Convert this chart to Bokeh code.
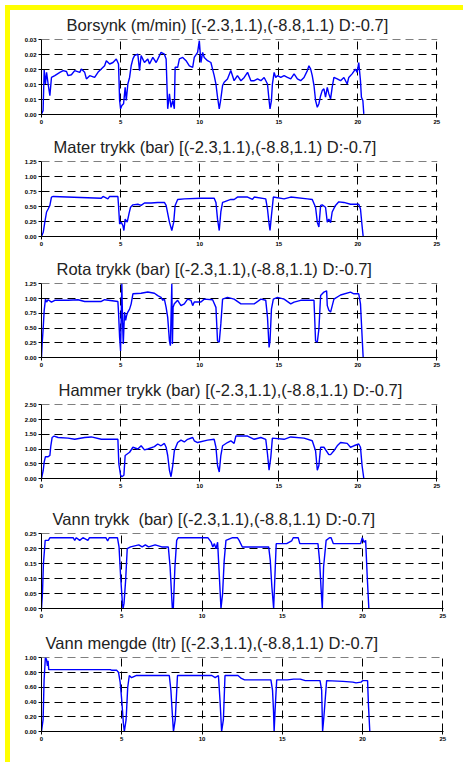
from bokeh.plotting import figure
from bokeh.layouts import column
from bokeh.models import FixedTicker, CustomJSTickFormatter, Range1d, Title, Div
from bokeh.embed import file_html
from bokeh.resources import INLINE

# ---------------- data ----------------
x_ticks = [0, 5, 10, 15, 20, 25]
x_labels = ["0", "5", "10", "15", "20", "25"]

titles = [
    "Borsynk (m/min) [(-2.3,1.1),(-8.8,1.1) D:-0.7]",
    "Mater trykk (bar) [(-2.3,1.1),(-8.8,1.1) D:-0.7]",
    "Rota trykk (bar) [(-2.3,1.1),(-8.8,1.1) D:-0.7]",
    "Hammer trykk (bar) [(-2.3,1.1),(-8.8,1.1) D:-0.7]",
    "Vann trykk\u00a0 (bar) [(-2.3,1.1),(-8.8,1.1) D:-0.7]",
    "Vann mengde (ltr) [(-2.3,1.1),(-8.8,1.1) D:-0.7]",
]

borsynk_ticks = [0, 0.005, 0.01, 0.015, 0.02, 0.025]
borsynk_labels = ["0.00", "0.01", "0.01", "0.02", "0.02", "0.03"]
borsynk_x = [0.00, 0.10, 0.17, 0.25, 0.32, 0.42, 0.53, 0.63, 0.84, 1.16, 1.37, 1.58, 1.68, 1.89, 2.10, 2.42,
             2.52, 2.73, 2.84, 3.05, 3.36, 3.57, 3.78, 3.99, 4.10, 4.31, 4.52, 4.73, 4.87, 4.94, 5.00, 5.08,
             5.19, 5.29, 5.36, 5.46, 5.57, 5.67, 5.78, 5.88, 6.09, 6.20, 6.30, 6.51, 6.72, 6.83, 7.04, 7.25,
             7.46, 7.56, 7.77, 7.88, 7.98, 8.09, 8.19, 8.30, 8.40, 8.45, 8.61, 8.72, 8.93, 9.14, 9.35, 9.56,
             9.66, 9.87, 9.98, 10.08, 10.19, 10.29, 10.50, 10.71, 10.92, 11.03, 11.13, 11.24, 11.34, 11.45,
             11.55, 11.76, 11.97, 12.18, 12.39, 12.61, 12.82, 13.03, 13.24, 13.45, 13.66, 13.87, 14.08, 14.29,
             14.39, 14.45, 14.54, 14.60, 14.71, 14.81, 14.92, 15.13, 15.34, 15.55, 15.76, 15.97, 16.18, 16.39,
             16.60, 16.81, 16.91, 17.02, 17.12, 17.23, 17.33, 17.44, 17.54, 17.65, 17.75, 17.86, 17.96, 18.07,
             18.17, 18.28, 18.38, 18.49, 18.70, 18.91, 19.12, 19.33, 19.43, 19.64, 19.85, 19.96, 20.06, 20.17,
             20.23, 20.32, 20.38]
borsynk_y = [0.0002, 0.0013, 0.0149, 0.0102, 0.0141, 0.0102, 0.0063, 0.0124, 0.0130, 0.0141, 0.0147, 0.0144,
             0.0130, 0.0133, 0.0147, 0.0141, 0.0152, 0.0141, 0.0119, 0.0130, 0.0124, 0.0141, 0.0152, 0.0163,
             0.0180, 0.0169, 0.0174, 0.0186, 0.0169, 0.0047, 0.0019, 0.0030, 0.0036, 0.0091, 0.0047, 0.0102,
             0.0124, 0.0163, 0.0186, 0.0197, 0.0202, 0.0147, 0.0197, 0.0174, 0.0186, 0.0169, 0.0191, 0.0174,
             0.0197, 0.0208, 0.0202, 0.0186, 0.0019, 0.0069, 0.0024, 0.0047, 0.0019, 0.0158, 0.0158, 0.0186,
             0.0191, 0.0180, 0.0163, 0.0158, 0.0191, 0.0208, 0.0247, 0.0174, 0.0208, 0.0191, 0.0180, 0.0174,
             0.0130, 0.0102, 0.0058, 0.0019, 0.0052, 0.0097, 0.0108, 0.0119, 0.0147, 0.0113, 0.0130, 0.0113,
             0.0124, 0.0141, 0.0113, 0.0113, 0.0119, 0.0113, 0.0124, 0.0102, 0.0047, 0.0019, 0.0047, 0.0102,
             0.0141, 0.0124, 0.0130, 0.0124, 0.0130, 0.0124, 0.0119, 0.0136, 0.0119, 0.0113, 0.0124, 0.0147,
             0.0163, 0.0152, 0.0130, 0.0097, 0.0047, 0.0024, 0.0036, 0.0063, 0.0080, 0.0086, 0.0058, 0.0091,
             0.0069, 0.0052, 0.0091, 0.0124, 0.0119, 0.0113, 0.0124, 0.0102, 0.0124, 0.0136, 0.0152, 0.0141,
             0.0174, 0.0113, 0.0058, 0.0047, 0.0002]

mater_ticks = [0, 0.25, 0.5, 0.75, 1.0, 1.25]
mater_labels = ["0.00", "0.25", "0.50", "0.75", "1.00", "1.25"]
mater_x = [0.00, 0.11, 0.21, 0.32, 0.42, 0.53, 0.63, 0.74, 3.78, 3.89, 4.20, 4.31, 4.83, 4.87, 4.94, 5.04,
           5.15, 5.21, 5.29, 5.42, 5.53, 5.63, 5.78, 6.09, 6.30, 6.51, 6.93, 7.35, 7.77, 7.88, 8.09, 8.24,
           8.36, 8.45, 8.61, 9.03, 10.08, 10.92, 11.03, 11.13, 11.24, 11.34, 11.45, 11.55, 11.97, 12.18,
           12.39, 13.03, 13.34, 13.45, 14.18, 14.29, 14.39, 14.45, 14.54, 14.66, 15.34, 15.76, 16.81, 17.12,
           17.33, 17.44, 17.54, 17.65, 17.75, 17.96, 18.07, 18.17, 18.28, 18.38, 18.59, 18.80, 19.12, 19.54,
           20.06, 20.17, 20.27, 20.34]
mater_y = [0.00, 0.07, 0.24, 0.41, 0.46, 0.52, 0.66, 0.67, 0.64, 0.67, 0.63, 0.67, 0.67, 0.52, 0.21, 0.24,
           0.18, 0.10, 0.29, 0.24, 0.38, 0.49, 0.53, 0.54, 0.52, 0.56, 0.56, 0.57, 0.57, 0.52, 0.24, 0.10,
           0.24, 0.52, 0.62, 0.63, 0.64, 0.64, 0.57, 0.29, 0.10, 0.41, 0.57, 0.58, 0.62, 0.62,
           0.66, 0.66, 0.62, 0.66, 0.63, 0.46, 0.21, 0.10, 0.35, 0.66, 0.63, 0.66, 0.63, 0.62,
           0.49, 0.24, 0.16, 0.52, 0.53, 0.49, 0.24, 0.29, 0.23, 0.41, 0.52, 0.58, 0.57, 0.54,
           0.54, 0.46, 0.18, 0.00]

rota_ticks = [0, 0.25, 0.5, 0.75, 1.0, 1.25]
rota_labels = ["0.00", "0.25", "0.50", "0.75", "1.00", "1.25"]
rota_x = [0.00, 0.04, 0.11, 0.17, 0.25, 0.32, 0.42, 0.63, 0.84, 1.68, 2.31, 2.73, 3.78, 3.99, 4.83, 4.87,
          4.94, 5.00, 5.04, 5.08, 5.13, 5.17, 5.25, 5.32, 5.38, 5.46, 5.57, 5.67, 5.78, 6.30, 6.72, 7.14,
          7.35, 7.56, 7.67, 7.77, 7.88, 7.98, 8.09, 8.15, 8.19, 8.24, 8.28, 8.32, 8.40, 8.61, 8.82, 9.03,
          9.24, 9.45, 9.56, 9.66, 10.08, 10.29, 10.82, 11.03, 11.13, 11.24, 11.34, 11.45, 11.76, 12.18,
          12.61, 13.45, 13.87, 14.18, 14.29, 14.39, 14.45, 14.54, 14.66, 14.92, 15.34, 15.76, 15.97, 16.39,
          17.23, 17.33, 17.44, 17.54, 17.65, 17.86, 18.03, 18.07, 18.17, 18.28, 18.49, 18.91, 19.54, 19.75,
          20.06, 20.17, 20.27, 20.34]
rota_y = [0.00, 0.23, 0.51, 0.80, 0.99, 0.94, 0.98, 0.94, 0.97, 0.97, 0.98, 0.95, 0.95, 0.98, 0.95, 0.77,
          0.34, 0.11, 0.68, 1.25, 0.57, 0.23, 0.77, 0.63, 0.71, 0.77, 0.82, 0.91, 1.08, 1.09, 1.11, 1.09,
          1.05, 1.02, 0.97, 0.99, 0.85, 0.68, 0.28, 0.20, 0.68, 1.25, 0.23, 0.85, 0.91, 0.97, 0.88, 0.91,
          0.99, 0.97, 0.88, 0.94, 0.94, 0.99, 0.98, 0.85, 0.28, 0.26, 0.57, 0.99, 1.02, 0.99,
          0.91, 0.91, 0.99, 0.97, 0.68, 0.17, 0.28, 0.82, 0.99, 1.02, 0.99, 0.91, 0.94, 0.97,
          0.97, 0.28, 0.26, 0.48, 1.05, 1.11, 1.13, 0.88, 0.80, 0.77, 0.99, 1.06, 1.11, 1.08,
          1.08, 0.91, 0.37, 0.00]

hammer_ticks = [0, 0.5, 1.0, 1.5, 2.0, 2.5]
hammer_labels = ["0.00", "0.50", "1.00", "1.50", "2.00", "2.50"]
hammer_x = [0.00, 0.11, 0.17, 0.25, 0.42, 0.53, 0.59, 0.67, 0.80, 1.05, 1.68, 2.10, 2.73, 3.15, 3.78, 4.83,
            4.89, 5.00, 5.08, 5.21, 5.29, 5.57, 5.78, 6.09, 6.30, 6.51, 6.72, 7.14, 7.35, 7.56, 7.77, 7.88,
            7.98, 8.09, 8.19, 8.30, 8.40, 8.61, 8.82, 9.03, 9.24, 9.56, 9.66, 9.87, 10.50, 10.92, 11.03,
            11.13, 11.24, 11.34, 11.45, 11.76, 11.97, 12.18, 12.29, 13.03, 13.45, 13.87, 14.18, 14.29, 14.39,
            14.50, 14.60, 15.34, 15.76, 16.60, 17.12, 17.33, 17.44, 17.54, 17.65, 17.86, 18.17, 18.28, 18.49,
            18.70, 18.91, 19.33, 19.54, 19.75, 20.06, 20.17, 20.27, 20.38]
hammer_y = [0.00, 0.28, 0.56, 0.74, 0.74, 0.78, 1.11, 1.39, 1.44, 1.39, 1.37, 1.33, 1.39, 1.41, 1.33, 1.33,
            0.50, 0.11, 0.06, 0.11, 0.78, 0.89, 1.06, 1.00, 1.11, 0.97, 1.00, 1.08, 1.17, 1.11, 1.19, 1.06,
            0.78, 0.28, 0.06, 0.44, 0.94, 1.22, 1.30, 1.24, 1.33, 1.39, 1.28, 1.22, 1.30, 1.33, 1.06,
            0.44, 0.22, 0.78, 1.11, 1.22, 1.28, 1.19, 1.44, 1.44, 1.33, 1.39, 1.33, 0.83, 0.28,
            0.72, 1.37, 1.33, 1.41, 1.37, 1.28, 0.94, 0.28, 0.44, 1.06, 1.06, 0.81, 0.81, 0.94,
            1.11, 1.22, 1.19, 1.06, 1.11, 1.17, 1.06, 0.44, 0.00]

vtrykk_ticks = [0, 0.05, 0.1, 0.15, 0.2, 0.25]
vtrykk_labels = ["0.00", "0.05", "0.10", "0.15", "0.20", "0.25"]
vtrykk_x = [0.00, 0.06, 0.12, 0.23, 0.43, 0.53, 1.97, 2.07, 2.17, 2.38, 2.58, 2.89, 2.99, 4.01, 4.12, 4.22,
            4.73, 4.83, 4.93, 5.04, 5.08, 5.14, 5.24, 5.34, 5.55, 6.06, 6.27, 6.47, 6.67, 7.08, 7.49, 7.90,
            8.01, 8.11, 8.15, 8.21, 8.31, 8.42, 8.52, 10.36, 10.57, 10.67, 10.77, 10.87, 10.97, 11.08,
            11.18, 11.28, 11.38, 11.49, 11.90, 12.20, 12.31, 12.51, 14.15, 14.25, 14.35, 14.46, 14.52, 14.62,
            15.27, 15.58, 15.68, 15.99, 16.09, 17.22, 17.32, 17.42, 17.49, 17.57, 17.73, 17.94, 18.04, 18.18,
            19.88, 19.98, 20.09, 20.19, 20.29, 20.39]
vtrykk_y = [0.000, 0.050, 0.150, 0.228, 0.228, 0.237, 0.237, 0.228, 0.237, 0.228, 0.237, 0.228, 0.237, 0.237,
            0.226, 0.237, 0.237, 0.206, 0.106, 0.017, 0.000, 0.017, 0.094, 0.200, 0.206, 0.213, 0.206, 0.213,
            0.206, 0.213, 0.206, 0.206, 0.139, 0.039, 0.000, 0.000, 0.139, 0.228, 0.237, 0.237, 0.222, 0.206,
            0.217, 0.200, 0.222, 0.106, 0.000, 0.050, 0.161, 0.228, 0.237, 0.237, 0.228, 0.206, 0.206, 0.161,
            0.072, 0.000, 0.083, 0.217, 0.217, 0.226, 0.237, 0.237, 0.217, 0.217, 0.161, 0.061, 0.000, 0.139,
            0.228, 0.237, 0.237, 0.217, 0.217, 0.237, 0.222, 0.228, 0.106, 0.000]

vmengde_ticks = [0, 0.2, 0.4, 0.6, 0.8, 1.0]
vmengde_labels = ["0.00", "0.20", "0.40", "0.60", "0.80", "1.00"]
vmengde_x = [0.00, 0.10, 0.16, 0.24, 0.31, 0.37, 0.41, 0.45, 4.29, 4.39, 4.69, 4.80, 4.90, 5.00, 5.10, 5.16,
             5.27, 5.37, 5.47, 5.61, 5.92, 7.96, 8.06, 8.16, 8.22, 8.33, 8.47, 10.61, 10.82, 11.02, 11.12,
             11.22, 11.33, 11.43, 12.24, 12.45, 12.65, 14.29, 14.39, 14.45, 14.49, 14.55, 14.65, 15.31, 15.71,
             16.12, 16.43, 17.35, 17.45, 17.51, 17.59, 17.76, 18.78, 19.39, 19.59, 19.90, 20.00, 20.31, 20.37,
             20.45]
vmengde_y = [0.00, 0.16, 0.69, 1.00, 0.98, 0.89, 0.96, 0.84, 0.84, 0.83, 0.83, 0.80, 0.67, 0.42, 0.11, 0.00,
             0.16, 0.60, 0.76, 0.73, 0.76, 0.76, 0.56, 0.20, 0.00, 0.16, 0.76, 0.76, 0.73, 0.76, 0.42,
             0.00, 0.16, 0.76, 0.76, 0.72, 0.70, 0.70, 0.56, 0.29, 0.00, 0.29, 0.70, 0.70, 0.71,
             0.71, 0.69, 0.69, 0.56, 0.00, 0.20, 0.69, 0.68, 0.67, 0.66, 0.67, 0.69, 0.69, 0.34,
             0.00]

series = [
    (borsynk_x, borsynk_y, borsynk_ticks, borsynk_labels),
    (mater_x, mater_y, mater_ticks, mater_labels),
    (rota_x, rota_y, rota_ticks, rota_labels),
    (hammer_x, hammer_y, hammer_ticks, hammer_labels),
    (vtrykk_x, vtrykk_y, vtrykk_ticks, vtrykk_labels),
    (vmengde_x, vmengde_y, vmengde_ticks, vmengde_labels),
]

# ---------------- layout (pixels) ----------------
# (border_top, frame_height, border_bottom, border_left, frame_width, border_right, title_left_offset)
layout = [
    (39, 75, 15, 40, 397, 9, 25),
    (32, 75, 15, 40, 397, 9, 12),
    (32, 74, 15, 40, 397, 9, 15),
    (32, 74, 23, 40, 397, 9, 17),
    (32, 75, 17, 41, 407, 4, 11),
    (32, 74, 15, 41, 407, 4, 4),
]

FONT = "Liberation Sans"
figs = []
for (xs, ys, yt, yl), ttl, (bt, fh, bb, bl, fw, br, toff) in zip(series, titles, layout):
    p = figure(width=bl + fw + br, height=bt + fh + bb, output_backend="svg", toolbar_location=None,
               x_range=Range1d(0, 25.04), y_range=Range1d(0, yt[-1] * 1.004),
               min_border_top=bt, min_border_bottom=bb, min_border_left=bl, min_border_right=br)
    p.background_fill_color = "white"
    p.border_fill_color = "white"
    p.outline_line_color = None

    p.add_layout(Title(text=ttl, align="left", offset=toff, standoff=11,
                       text_font=FONT, text_font_size="16.5px", text_font_style="normal",
                       text_color="#222222"), "above")

    p.line(xs, ys, line_color="#0000ff", line_width=1.4)

    xtick = FixedTicker(ticks=x_ticks)
    ytick = FixedTicker(ticks=yt)
    p.xaxis.ticker = xtick
    p.yaxis.ticker = ytick
    p.xaxis.formatter = CustomJSTickFormatter(args=dict(labels=x_labels), code="return labels[index];")
    p.yaxis.formatter = CustomJSTickFormatter(args=dict(labels=yl), code="return labels[index];")
    for ax in (p.xaxis[0], p.yaxis[0]):
        ax.axis_line_color = "black"
        ax.axis_line_width = 1
        ax.major_tick_line_color = "black"
        ax.major_tick_out = 3
        ax.major_tick_in = 0
        ax.minor_tick_line_color = None
        ax.major_label_text_font = FONT
        ax.major_label_text_font_size = "6px"
        ax.major_label_text_font_style = "bold"
        ax.major_label_text_color = "black"
        ax.major_label_standoff = 2

    p.xgrid.ticker = xtick
    p.ygrid.ticker = ytick
    for g in (p.xgrid[0], p.ygrid[0]):
        g.grid_line_color = "black"
        g.grid_line_dash = "8 5"
        g.grid_line_width = 1
    figs.append(p)

left_strip = Div(text="", width=0, height=0,
                 styles={"position": "fixed", "left": "0px", "top": "0px", "right": "auto",
                         "bottom": "auto", "width": "5px", "height": "762px",
                         "background-color": "#ffff00", "z-index": "10"})
top_strip = Div(text="", width=0, height=0,
                styles={"position": "fixed", "left": "0px", "top": "0px", "right": "auto",
                        "bottom": "auto", "width": "463px", "height": "5px",
                        "background-color": "#ffff00", "z-index": "10"})

layout_root = column(*figs, left_strip, top_strip, spacing=0)
open("out.html", "w").write(file_html(layout_root, INLINE))
